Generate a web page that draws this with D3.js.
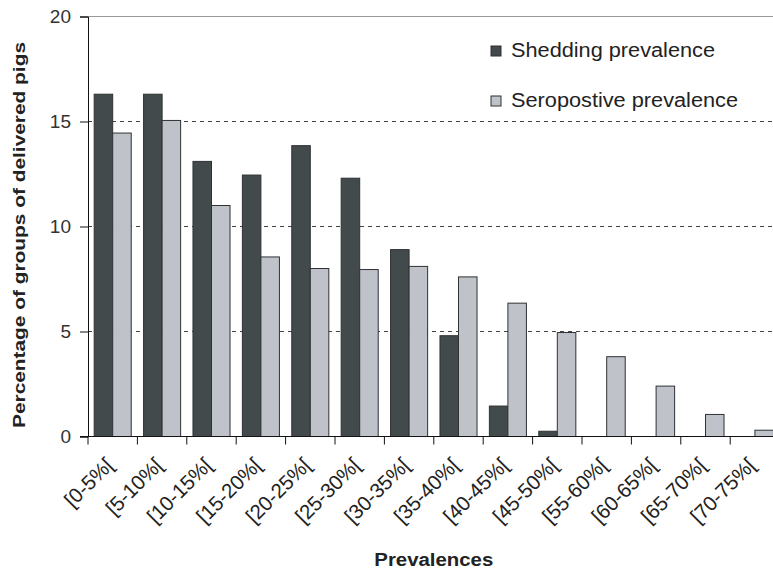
<!DOCTYPE html>
<html>
<head>
<meta charset="utf-8">
<script src="https://cdn.jsdelivr.net/npm/d3@7"></script>
<style>
  body { margin: 0; background: #fff; }
  svg { display: block; font-family: "Liberation Sans", Arial, sans-serif; }
</style>
</head>
<body>
<svg id="chart" width="773" height="569"></svg>
<script>
const categories = ["[0-5%[", "[5-10%[", "[10-15%[", "[15-20%[", "[20-25%[", "[25-30%[", "[30-35%[",
    "[35-40%[", "[40-45%[", "[45-50%[", "[55-60%[", "[60-65%[", "[65-70%[", "[70-75%["];
const shedding = [16.3, 16.3, 13.1, 12.45, 13.85, 12.3, 8.9, 4.8, 1.45, 0.25, 0, 0, 0, 0];
const seropositive = [14.45, 15.05, 11.0, 8.55, 8.0, 7.95, 8.1, 7.6, 6.35, 4.95, 3.8, 2.4, 1.05, 0.3];
const seriesNames = ["Shedding prevalence", "Seropostive prevalence"];
const yTicks = [0, 5, 10, 15, 20];

const colors = ["#434a4c", "#c0c2ca"];

const svg = d3.select("#chart");
const plotLeft = 88, plotTop = 16.5, plotBottom = 436.5;
const plotWidth = categories.length * 49.4; // plot runs past the right edge, as in the source image

const x = d3.scaleBand().domain(categories).range([plotLeft, plotLeft + plotWidth])
    .paddingInner(0.25).paddingOuter(0.125);
const x1 = d3.scaleBand().domain([0, 1]).range([0, x.bandwidth()]);
const y = d3.scaleLinear().domain([0, 20]).range([plotBottom, plotTop]);

// gridlines
svg.append("g").selectAll("line")
    .data(yTicks.filter(d => d > 0))
    .join("line")
    .attr("x1", plotLeft).attr("x2", plotLeft + plotWidth)
    .attr("y1", d => y(d)).attr("y2", d => y(d))
    .attr("stroke", d => d === 20 ? "#999" : "#444")
    .attr("stroke-width", 1)
    .attr("stroke-dasharray", d => d === 20 ? null : "4,4");

// bars
const groups = svg.append("g").selectAll("g")
    .data(categories)
    .join("g")
    .attr("transform", d => `translate(${x(d)},0)`);

groups.selectAll("rect")
    .data((d, i) => [shedding[i], seropositive[i]].map((v, s) => ({ v, s })).filter(e => e.v > 0))
    .join("rect")
    .attr("x", d => x1(d.s))
    .attr("width", x1.bandwidth())
    .attr("y", d => y(d.v))
    .attr("height", d => y(0) - y(d.v))
    .attr("fill", d => colors[d.s])
    .attr("stroke", "#2e3233")
    .attr("stroke-width", 1);

// y axis
const yAxis = svg.append("g")
    .attr("transform", `translate(${plotLeft},0)`)
    .call(d3.axisLeft(y).tickValues(yTicks).tickSize(8).tickPadding(9));
yAxis.select(".domain").attr("stroke", "#111");
yAxis.selectAll(".tick line").attr("stroke", "#111");
yAxis.selectAll("text").attr("font-size", 19).attr("fill", "#333")
    .attr("font-family", "'Liberation Sans', Arial, sans-serif");

// x axis with ticks on category boundaries
const xAxis = svg.append("g")
    .attr("transform", `translate(0,${plotBottom})`);
xAxis.append("line")
    .attr("x1", plotLeft - 8).attr("x2", plotLeft + plotWidth)
    .attr("stroke", "#111");
xAxis.selectAll(".bound")
    .data(d3.range(categories.length + 1))
    .join("line")
    .attr("class", "bound")
    .attr("x1", i => plotLeft + i * x.step()).attr("x2", i => plotLeft + i * x.step())
    .attr("y1", 0).attr("y2", 8)
    .attr("stroke", "#111");
xAxis.selectAll("text")
    .data(categories)
    .join("text")
    .attr("transform", d => `translate(${x(d) + x.bandwidth() / 2 + 2},30) rotate(-45)`)
    .attr("text-anchor", "end")
    .attr("font-size", 20.5)
    .attr("fill", "#222")
    .text(d => d);

// axis titles
svg.append("text")
    .attr("transform", `translate(25,235) rotate(-90)`)
    .attr("text-anchor", "middle")
    .attr("font-size", 17)
    .attr("font-weight", "bold")
    .attr("fill", "#222")
    .attr("textLength", 386)
    .attr("lengthAdjust", "spacingAndGlyphs")
    .text("Percentage of groups of delivered pigs");

svg.append("text")
    .attr("x", plotLeft + plotWidth / 2).attr("y", 566)
    .attr("text-anchor", "middle")
    .attr("font-size", 18)
    .attr("font-weight", "bold")
    .attr("fill", "#222")
    .attr("textLength", 119)
    .attr("lengthAdjust", "spacingAndGlyphs")
    .text("Prevalences");

// legend
const legend = svg.append("g").selectAll("g")
    .data(seriesNames)
    .join("g")
    .attr("transform", (d, i) => `translate(491,${46 + i * 50})`);
legend.append("rect")
    .attr("width", 10).attr("height", 10)
    .attr("fill", (d, i) => colors[i])
    .attr("stroke", "#2e3233");
legend.append("text")
    .attr("x", 20).attr("y", 11)
    .attr("font-size", 20)
    .attr("fill", "#222")
    .attr("textLength", (d, i) => [204, 227][i])
    .attr("lengthAdjust", "spacingAndGlyphs")
    .text(d => d);
</script>
</body>
</html>
